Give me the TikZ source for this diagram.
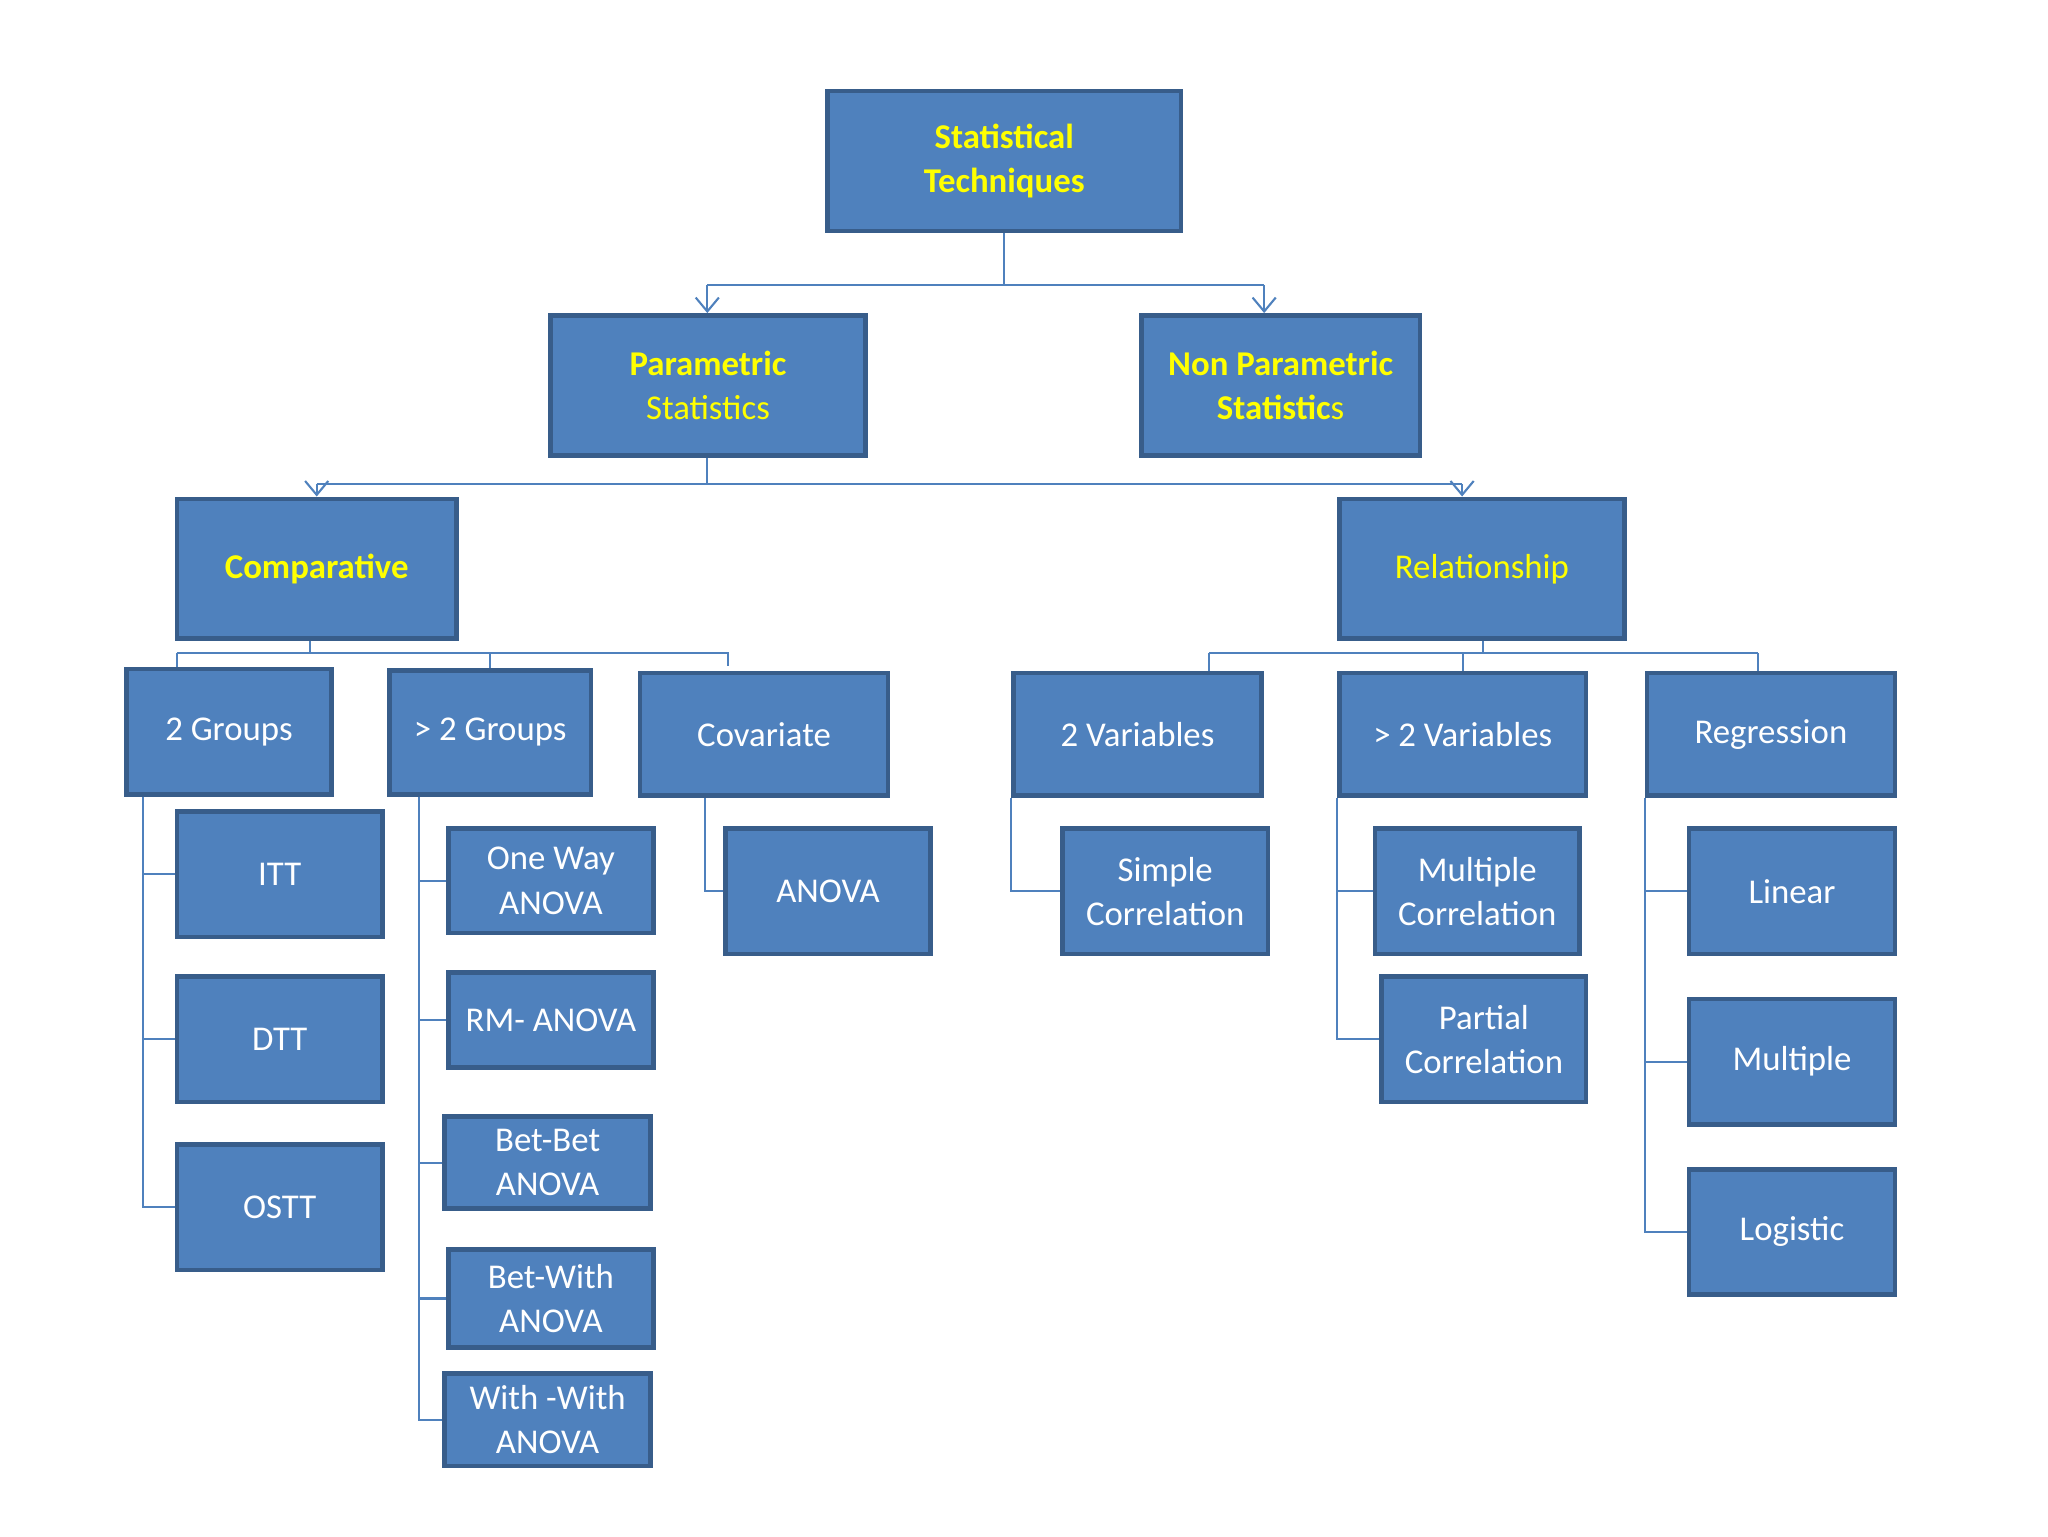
\documentclass[tikz,border=0pt]{standalone}
\usepackage{fontspec}
\setmainfont{Carlito}
\usetikzlibrary{arrows.meta}
\definecolor{boxfill}{HTML}{4F81BD}
\definecolor{boxline}{HTML}{385D8A}
\definecolor{titleyellow}{HTML}{FFFF00}
\tikzset{
  box/.style={draw=boxline, line width=2pt, fill=boxfill, text=white, align=center,
    font=\fontsize{15}{19}\selectfont, inner sep=2pt},
  head/.style={box, text=titleyellow},
  link/.style={draw=boxfill, line width=0.9pt},
  arrow/.style={link, -{Straight Barb[length=6pt,width=10pt]}}
}
\begin{document}
\begin{tikzpicture}[x=0.02cm, y=-0.02cm]
    \useasboundingbox (0,0) rectangle (1552,1164);

    % Define nodes
    \node[head, minimum width=5.36cm, minimum height=2.12cm] (st) at (761,122) {\textbf{Statistical}\\\textbf{Techniques}};
    \node[head, minimum width=4.78cm, minimum height=2.12cm] (ps) at (536.5,292) {\textbf{Parametric}\\Statistics};
    \node[head, minimum width=4.22cm, minimum height=2.12cm] (nps) at (970.5,292) {\textbf{Non Parametric}\\\textbf{Statistic}s};
    \node[head, minimum width=4.24cm, minimum height=2.12cm] (comp) at (240,431) {\textbf{Comparative}};
    \node[head, minimum width=4.32cm, minimum height=2.12cm] (rel) at (1123,431) {Relationship};

    \node[box, minimum width=3.1cm, minimum height=1.9cm] (tg) at (173.5,554.5) {2 Groups};
    \node[box, minimum width=3.06cm, minimum height=1.88cm] (mg) at (371.5,555) {> 2 Groups};
    \node[box, minimum width=3.76cm, minimum height=1.86cm] (cov) at (579,556.5) {Covariate};
    \node[box, minimum width=3.76cm, minimum height=1.86cm] (tv) at (862,556.5) {2 Variables};
    \node[box, minimum width=3.74cm, minimum height=1.86cm] (mv) at (1108.5,556.5) {> 2 Variables};
    \node[box, minimum width=3.76cm, minimum height=1.86cm] (reg) at (1342,556.5) {Regression};

    \node[box, minimum width=3.12cm, minimum height=1.9cm] (itt) at (212,662.5) {ITT};
    \node[box, minimum width=3.12cm, minimum height=1.9cm] (dtt) at (212,787.5) {DTT};
    \node[box, minimum width=3.12cm, minimum height=1.9cm] (ostt) at (212,915) {OSTT};

    \node[box, minimum width=3.1cm, minimum height=1.58cm] (oneway) at (417.5,667.5) {One Way\\ANOVA};
    \node[box, minimum width=3.1cm, minimum height=1.44cm] (rm) at (417.5,773) {RM- ANOVA};
    \node[box, minimum width=3.12cm, minimum height=1.4cm] (betbet) at (415,881) {Bet-Bet\\ANOVA};
    \node[box, minimum width=3.1cm, minimum height=1.48cm] (betwith) at (417.5,984) {Bet-With\\ANOVA};
    \node[box, minimum width=3.12cm, minimum height=1.4cm] (withwith) at (415,1076) {With -With\\ANOVA};

    \node[box, minimum width=3.1cm, minimum height=1.9cm] (anova) at (627.5,675.5) {ANOVA};
    \node[box, minimum width=3.12cm, minimum height=1.9cm] (simple) at (883,675.5) {Simple\\Correlation};
    \node[box, minimum width=3.1cm, minimum height=1.9cm] (multcorr) at (1119.5,675.5) {Multiple\\Correlation};
    \node[box, minimum width=3.1cm, minimum height=1.9cm] (partial) at (1124.5,787.5) {Partial\\Correlation};
    \node[box, minimum width=3.12cm, minimum height=1.9cm] (linear) at (1358,675.5) {Linear};
    \node[box, minimum width=3.12cm, minimum height=1.9cm] (multiple) at (1358,804.5) {Multiple};
    \node[box, minimum width=3.12cm, minimum height=1.9cm] (logistic) at (1358,933.5) {Logistic};

    % Bus junctions
    \coordinate (sbus) at (761,216);
    \coordinate (sl) at (536,216);
    \coordinate (sr) at (958,216);
    \coordinate (pbus) at (536,367);
    \coordinate (pl) at (240,367);
    \coordinate (pr) at (1108,367);
    \coordinate (cbus) at (235,495);
    \coordinate (cl) at (134,495);
    \coordinate (cr) at (552,495);
    \coordinate (crt) at (552,505);
    \coordinate (rbus) at (1124,495);
    \coordinate (rl) at (916,495);
    \coordinate (rr) at (1332,495);

    % Top levels
    \draw[link] (st.south -| sbus) -- (sbus);
    \draw[link] (sl) -- (sr);
    \draw[arrow] (sl) -- (ps.north -| sl);
    \draw[arrow] (sr) -- (nps.north -| sr);
    \draw[link] (ps.south -| pbus) -- (pbus);
    \draw[link] (pl) -- (pr);
    \draw[arrow] (pl) -- (comp.north -| pl);
    \draw[arrow] (pr) -- (rel.north -| pr);

    % Comparative branch
    \draw[link] (comp.south -| cbus) -- (cbus);
    \draw[link] (cl) -- (cr) -- (crt);
    \draw[link] (cl) -- (tg.north -| cl);
    \draw[link] (mg.north |- cbus) -- (mg.north);

    % Relationship branch
    \draw[link] (rel.south -| rbus) -- (rbus);
    \draw[link] (rl) -- (rr);
    \draw[link] (rl) -- (tv.north -| rl);
    \draw[link] (mv.north |- rbus) -- (mv.north);
    \draw[link] (rr) -- (reg.north -| rr);

    % Leaves
    \foreach \leaf in {itt,dtt,ostt}
      \draw[link] ([xshift=0.28cm]tg.south west) |- (\leaf.west);
    \foreach \leaf in {oneway,rm,betbet,betwith,withwith}
      \draw[link] ([xshift=0.48cm]mg.south west) |- (\leaf.west);
    \draw[link] ([xshift=1.02cm]cov.south west) |- (anova.west);
    \draw[link] (tv.south west) |- (simple.west);
    \foreach \leaf in {multcorr,partial}
      \draw[link] (mv.south west) |- (\leaf.west);
    \foreach \leaf in {linear,multiple,logistic}
      \draw[link] (reg.south west) |- (\leaf.west);

\end{tikzpicture}
\end{document}
